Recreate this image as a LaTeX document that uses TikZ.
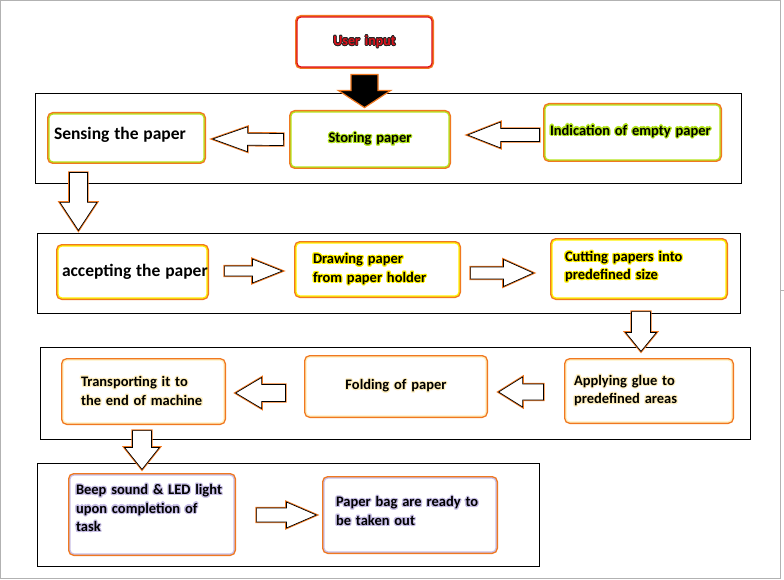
\documentclass[tikz,border=0pt]{standalone}
\usepackage{fontspec}
\setmainfont{Carlito}
\usepackage[copies]{contour}
\usetikzlibrary{calc}

\definecolor{bordorange}{HTML}{F07820}
\definecolor{leafgreen}{HTML}{B5E61D}
\definecolor{lemon}{HTML}{FFF200}
\definecolor{cream}{HTML}{FFF0C0}
\definecolor{lavender}{HTML}{C8BFE7}
\definecolor{userred}{HTML}{E0101A}

\contourlength{1.1pt}
\newcommand\glow[2]{\contour{#1}{#2}}
\newcommand\boxfont{\fontsize{14.5}{18.5}\selectfont\bfseries}
\newcommand\bigfont{\fontsize{17.5}{20}\selectfont\bfseries}

% block arrow: style, tail, tip, shaft half, head half, head length
\newcommand\blockarrow[6]{%
  \draw[#1] ($(#2)!#4!90:(#3)$)
    -- ($(#3)!#6!(#2)!#4!-90:(#2)$)
    -- ($(#3)!#6!(#2)!#5!-90:(#2)$)
    -- (#3)
    -- ($(#3)!#6!(#2)!#5!90:(#2)$)
    -- ($(#3)!#6!(#2)!#4!90:(#2)$)
    -- ($(#2)!#4!-90:(#3)$) -- cycle;}

\begin{document}
\begin{tikzpicture}[
  x=1pt, y=-1pt, font=\boxfont,
  grp/.style={draw=black, line width=0.8pt},
  box/.style={draw=#1, line width=1.2pt, fill=white, rounded corners=4pt,
    preaction={draw=bordorange, line width=4pt},
    align=left, inner ysep=0pt},
  harrow/.style={draw=black, line width=0.7pt, fill=white,
    preaction={draw=bordorange, line width=2.4pt}},
  solidarrow/.style={fill=black, draw=bordorange, line width=1.2pt}
]
\useasboundingbox (0,0) rectangle (784,580);
\draw[gray!60] (0.5,0.5) rectangle (780,578.5);
\draw[gray!60] (780,290) -- (784,290);

% group frames
\draw[grp] (35,93) rectangle (741,183);
\draw[grp] (37,233) rectangle (740,313);
\draw[grp] (40,347) rectangle (750,439);
\draw[grp] (37,463) rectangle (539,566);

% steps
\node[box=userred, minimum width=135, minimum height=50, text width=115, inner xsep=10, align=center]
  (user) at (364.5,42) {\fontsize{14}{18}\selectfont\contourlength{0.7pt}\contour{black!85}{\textcolor{userred}{User input}}};

\node[box=leafgreen, minimum width=155, minimum height=48, text width=145, inner xsep=5]
  (sense) at (126.5,138) {\bigfont\mbox{Sensing the paper}\\[-10pt]\mbox{}};
\node[box=leafgreen, minimum width=158, minimum height=55, text width=140, inner xsep=9, align=center]
  (store) at (370,139.5) {\glow{leafgreen}{Storing paper}};
\node[box=leafgreen, minimum width=175, minimum height=55, text width=165, inner xsep=5]
  (empty) at (632.5,132.5) {\glow{leafgreen}{Indication of empty paper}\\[-13.5pt]\mbox{}};

\node[box=lemon, minimum width=149, minimum height=52, text width=141, inner xsep=4]
  (accept) at (132.5,272) {\bigfont\mbox{accepting the paper}};
\node[box=lemon, minimum width=163, minimum height=53, text width=129, inner xsep=17]
  (draw) at (377.5,269.5) {\glow{lemon}{Drawing paper}\\\glow{lemon}{from paper holder}};
\node[box=lemon, minimum width=174, minimum height=58, text width=148, inner xsep=13]
  (cut) at (639,269) {\glow{lemon}{Cutting papers into}\\\glow{lemon}{predefined size}\\[-11.5pt]\mbox{}};

\node[box=cream, minimum width=161, minimum height=63, text width=125, inner xsep=18]
  (transport) at (143.5,391.5) {\glow{cream}{Transporting it to}\\\glow{cream}{the end of machine}};
\node[box=cream, minimum width=180, minimum height=59, text width=160, inner xsep=10, align=center]
  (fold) at (396,386.5) {\glow{cream}{Folding of paper}};
\node[box=cream, minimum width=166, minimum height=62, text width=150, inner xsep=8]
  (glue) at (649,391) {\glow{cream}{Applying glue to}\\\glow{cream}{predefined areas}};

\node[box=lavender, minimum width=164, minimum height=79, text width=152, inner xsep=6]
  (beep) at (152,514.5) {\glow{lavender}{Beep sound \& LED light}\\\glow{lavender}{upon completion of}\\\glow{lavender}{task}\\[-5.5pt]\mbox{}};
\node[box=lavender, minimum width=172, minimum height=74, text width=148, inner xsep=12]
  (bag) at (410,515) {\glow{lavender}{Paper bag are ready to}\\\glow{lavender}{be taken out}\\[-10.5pt]\mbox{}};

% arrow ends
\coordinate (a1s) at ($(store.west)+(-7,0)$);
\coordinate (a1e) at ($(sense.east)+(8,1)$);
\coordinate (a2s) at ($(empty.west)+(-5,2.5)$);
\coordinate (a2e) at ($(store.east)+(18,-4.5)$);
\coordinate (a3s) at ($(sense.south west)+(30,10)$);
\coordinate (a3e) at ($(accept.north west)+(21,-15)$);
\coordinate (a4s) at ($(accept.east)+(17,-1)$);
\coordinate (a4e) at ($(draw.west)+(-13,1.5)$);
\coordinate (a5s) at ($(draw.east)+(11,3.5)$);
\coordinate (a5e) at ($(cut.west)+(-18,4)$);
\coordinate (a6s) at ($(cut.south)+(2,13)$);
\coordinate (a6e) at ($(glue.north)+(-8,-8)$);
\coordinate (a7s) at ($(glue.west)+(-22,1)$);
\coordinate (a7e) at ($(fold.east)+(12,5.5)$);
\coordinate (a8s) at ($(fold.west)+(-20,6.5)$);
\coordinate (a8e) at ($(transport.east)+(11,1.5)$);
\coordinate (a9s) at ($(transport.south)+(-1.5,7)$);
\coordinate (a9e) at ($(beep.north)+(-10,-5)$);
\coordinate (a10s) at ($(beep.east)+(22,0.5)$);
\coordinate (a10e) at ($(bag.west)+(-7,0)$);
\coordinate (ins) at ($(user.south)+(0,7)$);
\coordinate (ine) at ($(user.south)+(0,40)$);

% arrows
\blockarrow{solidarrow}{ins}{ine}{13.5pt}{26pt}{17pt}
\blockarrow{harrow}{a1s}{a1e}{6pt}{12.5pt}{35pt}
\blockarrow{harrow}{a2s}{a2e}{6.5pt}{13pt}{33pt}
\blockarrow{harrow}{a3s}{a3e}{9pt}{18.5pt}{28pt}
\blockarrow{harrow}{a4s}{a4e}{5pt}{12pt}{30pt}
\blockarrow{harrow}{a5s}{a5e}{6pt}{13.5pt}{30pt}
\blockarrow{harrow}{a6s}{a6e}{9.5pt}{15.5pt}{19pt}
\blockarrow{harrow}{a7s}{a7e}{8pt}{15pt}{24pt}
\blockarrow{harrow}{a8s}{a8e}{8.5pt}{15.5pt}{26pt}
\blockarrow{harrow}{a9s}{a9e}{9.5pt}{17.5pt}{22pt}
\blockarrow{harrow}{a10s}{a10e}{7pt}{13pt}{30pt}
\end{tikzpicture}
\end{document}
